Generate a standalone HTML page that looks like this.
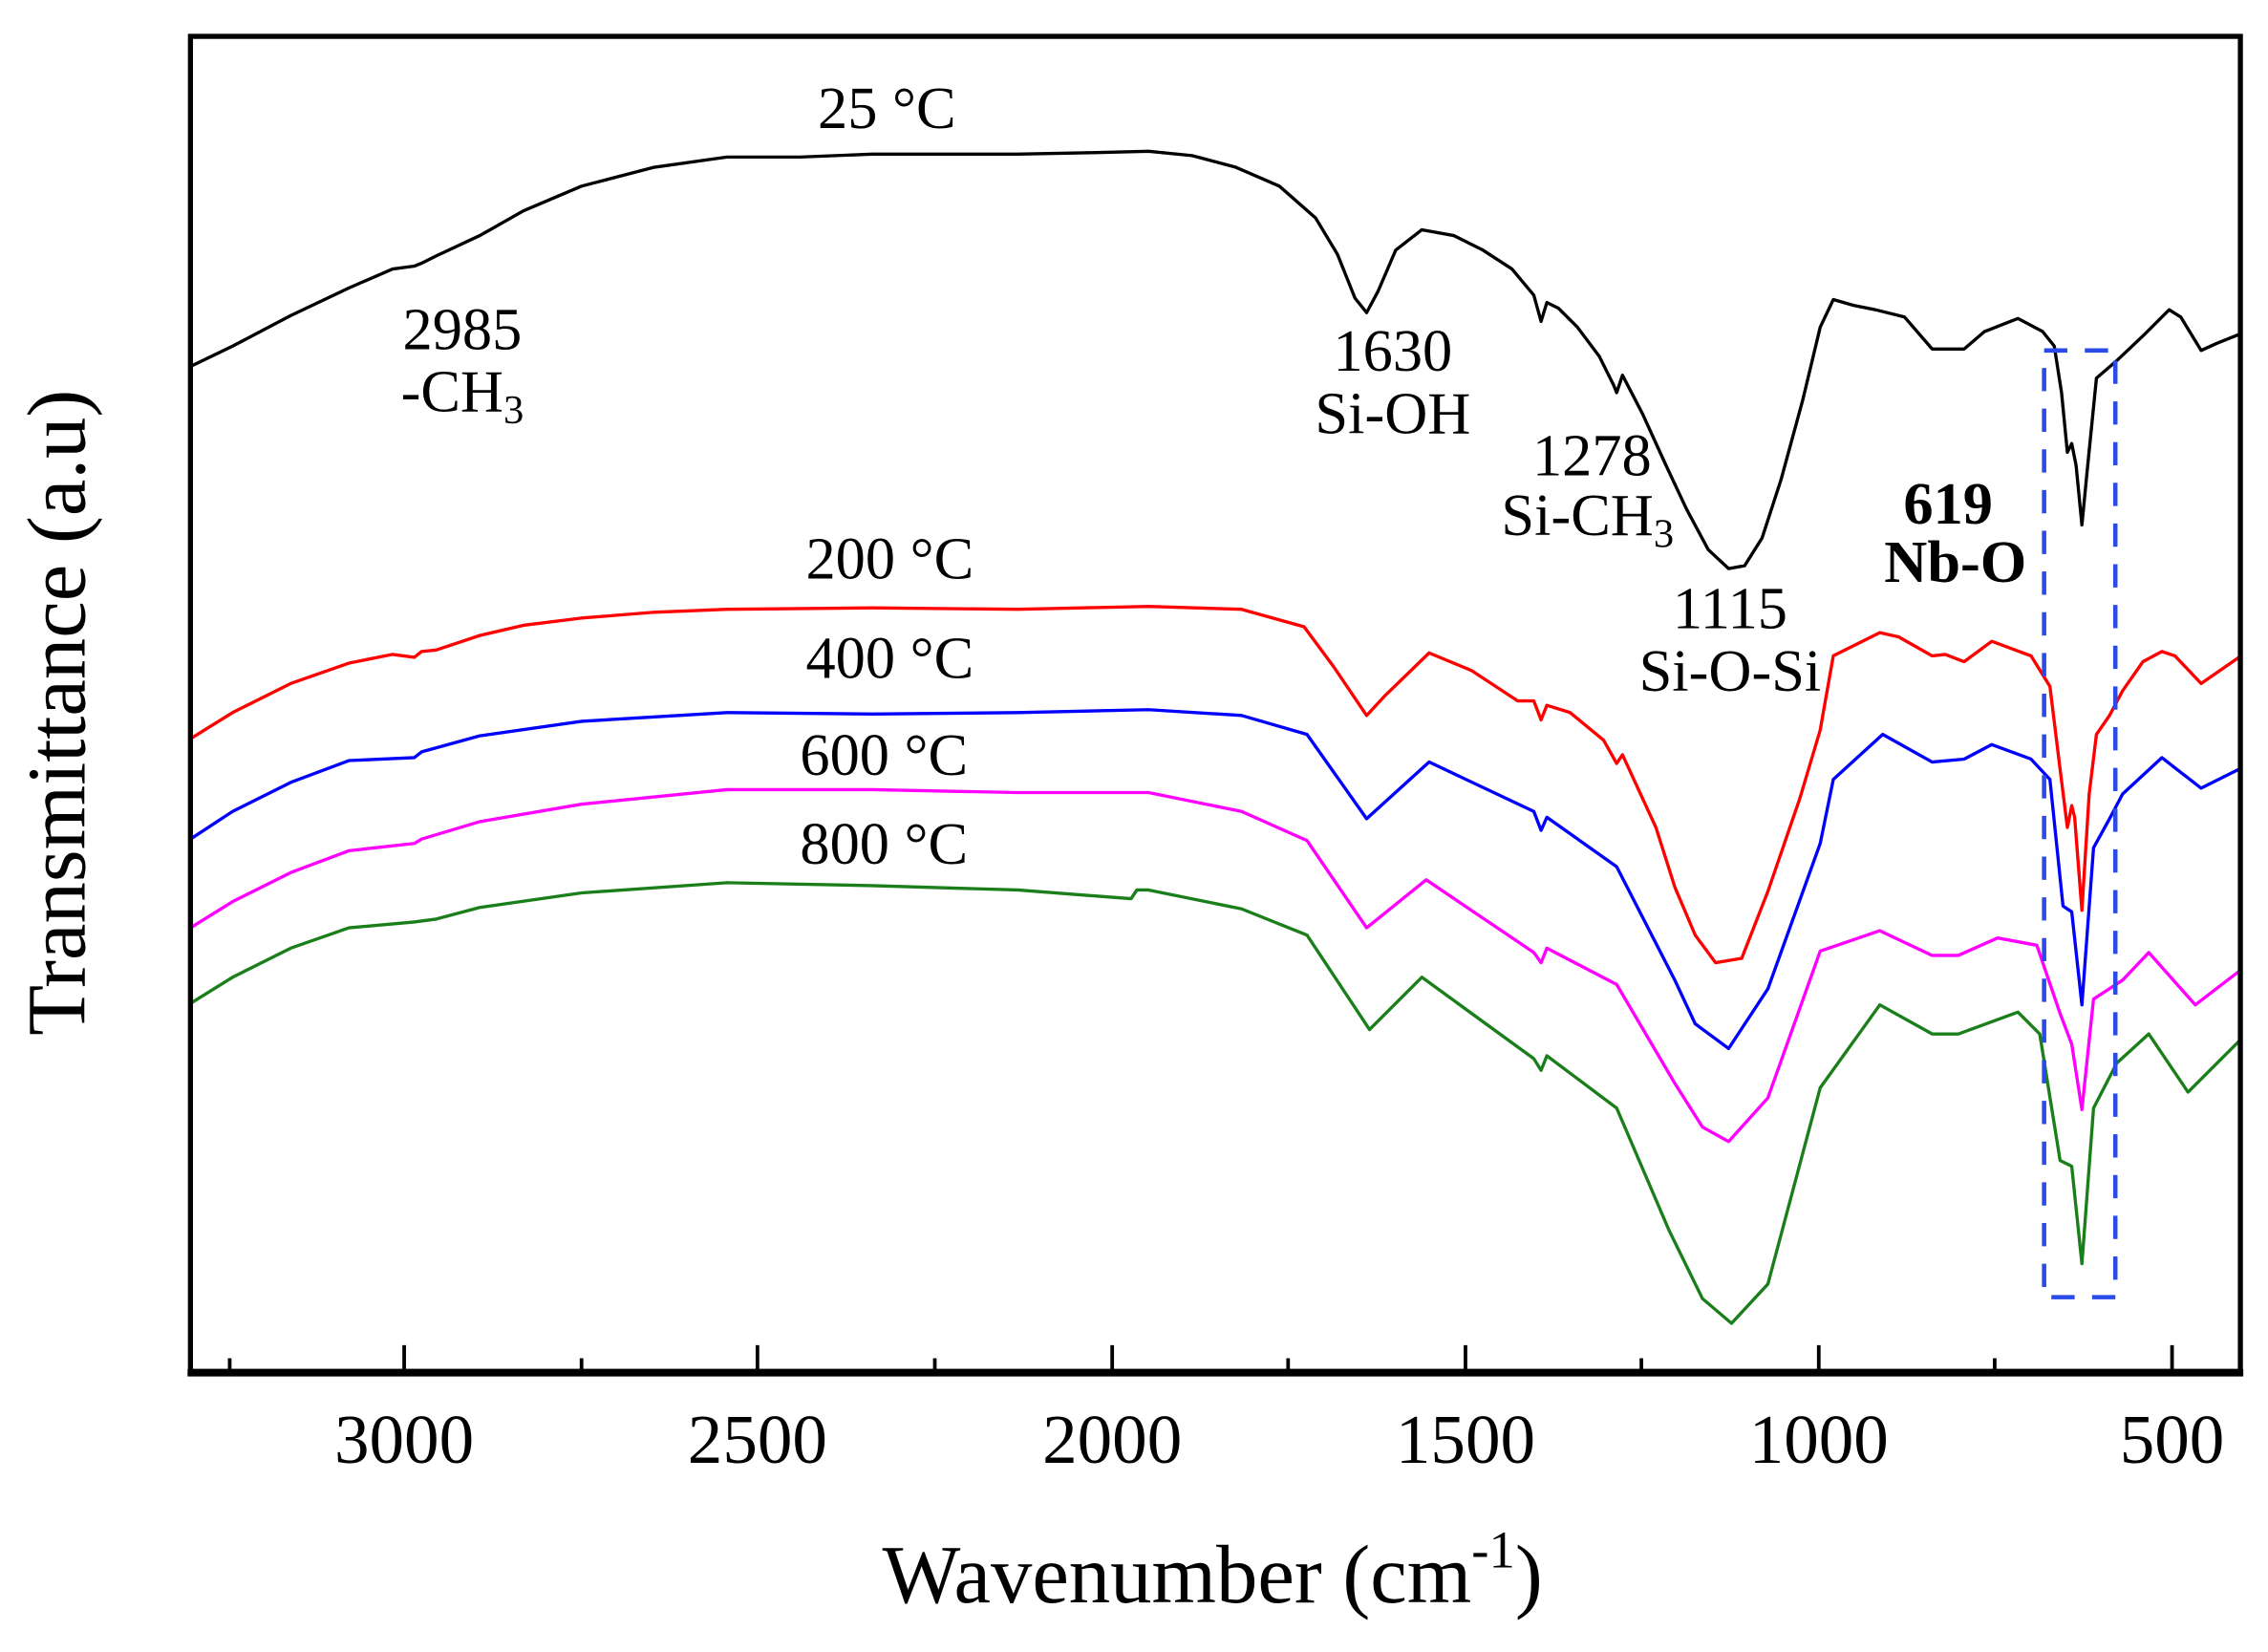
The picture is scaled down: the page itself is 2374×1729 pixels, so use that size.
<!DOCTYPE html>
<html><head><meta charset="utf-8"><style>
html,body{margin:0;padding:0;background:#fff}
svg{display:block}
text{font-family:"Liberation Serif",serif}
</style></head><body>
<svg width="2374" height="1729" viewBox="0 0 1560 1136" preserveAspectRatio="none" xmlns="http://www.w3.org/2000/svg">
<rect x="0" y="0" width="1560" height="1136" fill="#fff"/>
<g fill="none" stroke-width="2.2" stroke-linejoin="round" stroke-linecap="round">
<polyline stroke="#000" points="131,252 160,238 200,217 240,198 270,185 285,183 290,181 300,176 330,162 360,145 400,128 450,115 500,108 550,108 600,106 660,106 700,106 750,105 790,104 820,107 850,115 880,128 905,150 920,175 932,205 940,215 948,200 960,172 978,158 1000,162 1020,172 1040,185 1055,203 1060,221 1064,208 1072,212 1085,225 1100,245 1110,265 1112,270 1116,258 1130,285 1145,318 1160,350 1175,378 1189,391 1200,389 1212,370 1225,330 1240,275 1252,225 1261,206 1275,210 1290,213 1310,218 1329,240 1351,240 1365,228 1388,219 1405,228 1413,238 1418,270 1422,311 1425,305 1428,320 1432,361 1436,320 1442,260 1456,248 1475,230 1492,213 1500,218 1514,241 1525,236 1540,230"/>
<polyline stroke="#f00" points="131,508 160,490 200,470 240,456 270,450 285,452 290,448 300,447 330,437 360,430 400,425 450,421 500,419 600,418 700,419 790,417 854,419 897,431 917,458 940,492 953,478 983,449 1012,461 1044,482 1055,482 1060,495 1064,485 1080,490 1103,509 1112,525 1116,519 1139,569 1152,610 1166,643 1180,662 1198,659 1216,613 1238,549 1252,502 1261,451 1293,435 1306,438 1329,451 1338,450 1351,455 1370,441 1397,451 1410,472 1417,529 1422,569 1425,554 1427,562 1432,626 1437,546 1442,505 1451,492 1460,475 1474,455 1487,448 1496,451 1514,470 1540,452"/>
<polyline stroke="#00f" points="131,577 160,558 200,538 240,523 285,521 290,517 330,506 400,496 500,490 600,491 700,490 790,488 854,492 899,505 940,563 983,524 1055,558 1060,571 1064,562 1112,596 1152,674 1166,704 1189,721 1216,680 1252,580 1261,536 1295,505 1329,524 1351,522 1370,512 1397,522 1410,536 1419,623 1425,627 1432,691 1440,583 1451,563 1460,546 1487,521 1514,542 1540,529"/>
<polyline stroke="#f0f" points="131,638 160,620 200,600 240,585 285,580 290,577 330,565 400,553 500,543 600,543 700,545 790,545 854,558 899,578 940,638 981,605 1055,655 1060,662 1064,652 1112,677 1152,745 1171,775 1189,785 1216,755 1252,654 1293,640 1329,657 1347,657 1374,645 1401,650 1417,697 1425,718 1432,763 1440,687 1460,674 1478,655 1510,691 1540,668"/>
<polyline stroke="#1a7f1a" points="131,690 160,672 200,652 240,638 285,634 300,632 330,624 400,614 500,607 600,609 700,612 778,618 782,612 790,612 854,625 899,643 942,708 978,672 1055,728 1060,736 1064,726 1112,762 1148,846 1171,893 1191,910 1216,883 1252,748 1293,691 1329,711 1347,711 1388,696 1403,711 1417,798 1425,802 1432,869 1440,762 1456,731 1478,711 1505,751 1540,716"/>
</g>
<rect x="1406" y="241" width="49" height="651" fill="none" stroke="#2b4be8" stroke-width="3" stroke-dasharray="16,12"/>
<rect x="131" y="25" width="1410" height="918" fill="none" stroke="#000" stroke-width="3.5"/>
<line x1="129" y1="944" x2="1543" y2="944" stroke="#000" stroke-width="5"/>
<g stroke="#000" stroke-width="2.5">
<line x1="278" y1="943" x2="278" y2="925"/><line x1="521" y1="943" x2="521" y2="925"/><line x1="765" y1="943" x2="765" y2="925"/><line x1="1008" y1="943" x2="1008" y2="925"/><line x1="1251" y1="943" x2="1251" y2="925"/><line x1="1494" y1="943" x2="1494" y2="925"/>
<line x1="158" y1="943" x2="158" y2="934"/><line x1="400" y1="943" x2="400" y2="934"/><line x1="643" y1="943" x2="643" y2="934"/><line x1="886" y1="943" x2="886" y2="934"/><line x1="1129" y1="943" x2="1129" y2="934"/><line x1="1372" y1="943" x2="1372" y2="934"/>
</g>
<g font-size="48" text-anchor="middle" fill="#000">
<text x="278" y="1006">3000</text><text x="521" y="1006">2500</text><text x="765" y="1006">2000</text><text x="1008" y="1006">1500</text><text x="1251" y="1006">1000</text><text x="1494" y="1006">500</text>
</g>
<text x="834" y="1102" font-size="57" text-anchor="middle">Wavenumber (cm<tspan font-size="36" dy="-24">-1</tspan><tspan dy="24">)</tspan></text>
<text transform="translate(58,490) rotate(-90)" font-size="57" text-anchor="middle">Transmittance (a.u)</text>
<g font-size="41" fill="#000" text-anchor="middle">
<text x="610" y="88">25 °C</text>
<text x="318" y="240">2985</text>
<text x="318" y="283">-CH<tspan font-size="28" dy="8">3</tspan></text>
<text x="958" y="255">1630</text>
<text x="958" y="298">Si-OH</text>
<text x="1095" y="327">1278</text>
<text x="1092" y="368">Si-CH<tspan font-size="28" dy="8">3</tspan></text>
<text x="1190" y="432">1115</text>
<text x="1190" y="475">Si-O-Si</text>
<text x="1340" y="360" font-weight="bold">619</text>
<text x="1345" y="400" font-weight="bold">Nb-O</text>
<text x="612" y="398">200 °C</text>
<text x="612" y="466">400 °C</text>
<text x="608" y="533">600 °C</text>
<text x="608" y="594">800 °C</text>
</g>
</svg>
</body></html>
